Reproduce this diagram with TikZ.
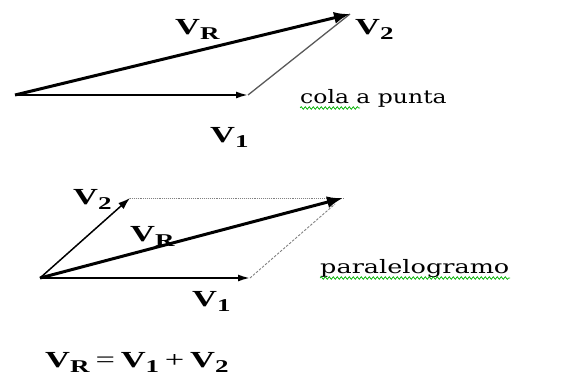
\documentclass[tikz,border=0pt]{standalone}
\usepackage{fontspec}
\setmainfont{Liberation Serif}
\newfontfamily\plainfont{DejaVu Serif}
\usetikzlibrary{arrows.meta,decorations.pathmorphing}
\newcommand{\wide}[1]{\scalebox{1.5}[1]{#1}}
\newcommand{\widet}[2]{\scalebox{#1}[1]{#2}}
\newcommand{\Vs}[1]{\textbf{V}\raisebox{-0.25em}{\fontsize{18}{18}\selectfont\textbf{#1}}}
\tikzset{
  lbl/.style={inner sep=0pt, anchor=base west, font=\fontsize{23}{26}\selectfont},
  txt/.style={inner sep=0pt, anchor=base west, font=\plainfont\fontsize{18.5}{22}\selectfont},
  vres/.style={line width=3pt, -{Latex[length=16pt,width=12pt]}},
  vone/.style={line width=1.8pt, -{Latex[length=12pt,width=7pt]}},
  vtwo/.style={line width=1.5pt, -{Latex[length=12pt,width=8pt]}},
  guide/.style={gray, line width=0.9pt},
  squig/.style={draw=green!70!black, line width=0.7pt, decorate,
    decoration={snake, amplitude=1.3pt, segment length=4pt}}
}
\begin{document}
\begin{tikzpicture}[x=1pt,y=-1pt]
\useasboundingbox (0,0) rectangle (577,378);
% top: tail to tip
\coordinate (A) at (15,95);
\coordinate (A1) at (248,95);
\coordinate (A2) at (350,14);
\draw[gray!70!black, line width=1.3pt] (A1) -- (A2);
\draw[vone] (A) -- (A1);
\draw[vres] (A) -- (A2);
\node[lbl] (lvrA) at (175,34) {\wide{\Vs{R}}};
\node[lbl] (lv2A) at (355,34) {\wide{\Vs{2}}};
\node[lbl] (lv1A) at (210,142) {\wide{\Vs{1}}};
\node[txt] (cola) at (300,103) {\widet{1.27}{cola a punta}};
\draw[squig] (300,108) -- (360,108);
% bottom: parallelogram
\coordinate (B) at (40,278);
\coordinate (B1) at (250,278);
\coordinate (B2) at (130,198);
\coordinate (BR) at (343,198);
\draw[guide, densely dotted] (B2) -- (BR);
\draw[guide, dash pattern=on 2.5pt off 1.5pt] (B1) -- (335,204);
\draw[vone] (B) -- (B1);
\draw[vtwo] (B) -- (B2);
\draw[vres] (B) -- (BR);
\node[lbl] (lv2B) at (73,204) {\wide{\Vs{2}}};
\node[lbl] (lvrB) at (130,241) {\wide{\Vs{R}}};
\node[lbl] (lv1B) at (192,306) {\wide{\Vs{1}}};
\node[txt] (para) at (320,273) {\widet{1.38}{paralelogramo}};
\draw[squig] (320,278) -- (510,278);
% equation
\node[lbl] (eq) at (45,367) {\wide{\Vs{R}\,=\,\Vs{1}\,+\,\Vs{2}}};
\end{tikzpicture}
\end{document}
